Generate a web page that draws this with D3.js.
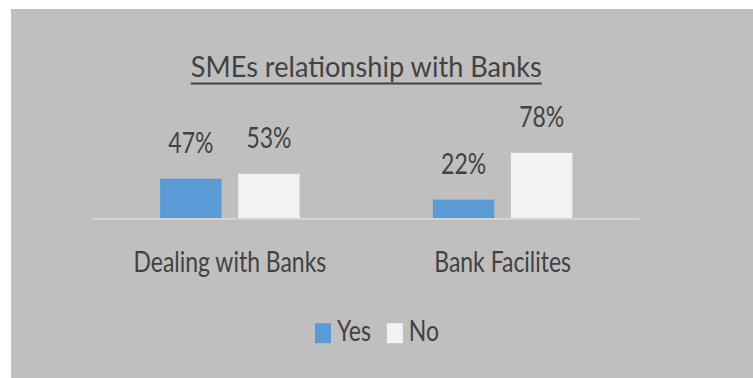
<!DOCTYPE html>
<html>
<head>
<meta charset="utf-8">
<script src="https://cdn.jsdelivr.net/npm/d3@7"></script>
<style>
  html, body { margin: 0; padding: 0; background: #ffffff; }
  svg { display: block; }
  text { font-family: Lato, "Open Sans", sans-serif; }
</style>
</head>
<body>
<svg id="chart" width="753" height="378"></svg>
<script>
// Chart data
const title = "SMEs relationship with Banks";
const categories = ["Dealing with Banks", "Bank Facilites"];
const seriesNames = ["Yes", "No"];
const yesValues = [0.47, 0.22];
const noValues = [0.53, 0.78];

const colors = { Yes: "#5b9bd5", No: "#f2f2f2" };
const textColor = "#424242";
const squeeze = 0.82;          // narrow lettering for labels
const titleSqueeze = 0.97;     // the title is set wider
const fontSize = 28;

const svg = d3.select("#chart");
const W = 753, H = 378;

// grey chart area
svg.append("rect")
  .attr("x", 11).attr("y", 9)
  .attr("width", W - 11).attr("height", H - 9)
  .attr("fill", "#bfbfbf");

// scales
const x0 = d3.scaleBand().domain(categories).range([93.5, 639]).padding(0);
const groupWidth = 139.5;
const x1 = d3.scaleBand().domain(seriesNames).range([0, groupWidth]).paddingInner(0.212).paddingOuter(0);
const y = d3.scaleLinear().domain([0, 1]).range([218, 134.5]);

// helper: horizontally narrowed text anchored at (x, y)
function label(g, str, x, yy, anchor, sx) {
  return g.append("text")
    .attr("transform", `translate(${x},${yy}) scale(${sx || squeeze},1)`)
    .attr("text-anchor", anchor || "middle")
    .attr("font-size", fontSize)
    .attr("fill", textColor)
    .text(str);
}

// rows for the bars
const rows = categories.map((c, i) => ({
  category: c,
  values: [
    { key: "Yes", value: yesValues[i] },
    { key: "No", value: noValues[i] }
  ]
}));

// baseline
const axisY = y(0) + 0.75;
svg.append("line")
  .attr("x1", x0.range()[0] - 1.5).attr("x2", x0.range()[1])
  .attr("y1", axisY).attr("y2", axisY)
  .attr("stroke", "#d9d9d9").attr("stroke-width", 1.5);

const groups = svg.selectAll("g.group")
  .data(rows)
  .join("g")
  .attr("class", "group")
  .attr("transform", d => `translate(${x0(d.category) + x0.bandwidth() / 2 - groupWidth / 2},0)`);

groups.selectAll("rect")
  .data(d => d.values)
  .join("rect")
  .attr("x", d => x1(d.key))
  .attr("y", d => y(d.value))
  .attr("width", x1.bandwidth())
  .attr("height", d => y(0) - y(d.value))
  .attr("fill", d => colors[d.key]);

// value labels
groups.each(function (d) {
  const g = d3.select(this);
  d.values.forEach(v => {
    label(g, d3.format(".0%")(v.value), x1(v.key) + x1.bandwidth() / 2, y(v.value) - 26);
  });
});

// category labels
categories.forEach(c => {
  label(svg, c, x0(c) + x0.bandwidth() / 2, 271.5);
});

// title with underline
const titleX = (x0.range()[0] + x0.range()[1]) / 2;
const t = label(svg, title, titleX, 77.3, "middle", titleSqueeze);
const tw = t.node().getComputedTextLength() * titleSqueeze;
svg.append("rect")
  .attr("x", titleX - tw / 2).attr("y", 82.5)
  .attr("width", tw).attr("height", 2)
  .attr("fill", textColor);

// legend
const legend = svg.append("g");
const sw = 16, sh = 20, gapSwatch = 6, gapItem = 16;
let lx = 0;
seriesNames.forEach(name => {
  const item = legend.append("g").attr("transform", `translate(${lx},0)`);
  item.append("rect")
    .attr("x", 0).attr("y", -17.5)
    .attr("width", sw).attr("height", sh)
    .attr("fill", colors[name]);
  const txt = label(item, name, sw + gapSwatch, 0, "start");
  const w = txt.node().getComputedTextLength() * squeeze;
  lx += sw + gapSwatch + w + gapItem;
});
const legendWidth = lx - gapItem;
legend.attr("transform", `translate(${377 - legendWidth / 2},340.7)`);
</script>
</body>
</html>
